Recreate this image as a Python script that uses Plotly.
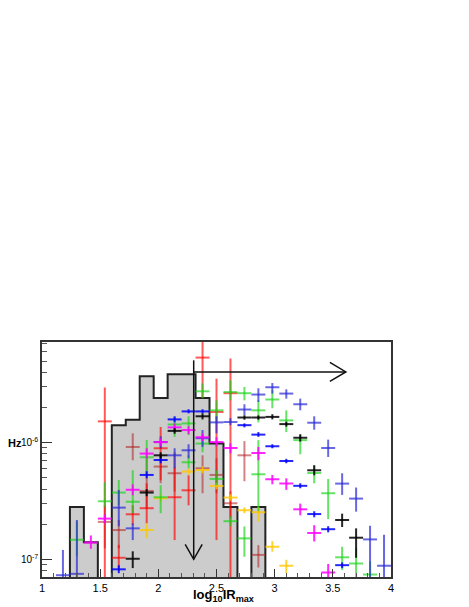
import plotly.graph_objects as go

# histogram (25 bins of 0.12 from 1 to 4)
bin_edges = [1.00, 1.12, 1.24, 1.36, 1.48, 1.60, 1.72, 1.84, 1.96, 2.08, 2.20, 2.32, 2.44,
             2.56, 2.68, 2.80, 2.92, 3.04, 3.16, 3.28, 3.40, 3.52, 3.64, 3.76, 3.88, 4.00]
hist_vals = [0, 0, 2.8e-7, 1.4e-7, 0, 1.41e-6, 1.57e-6, 3.7e-6, 2.41e-6, 3.85e-6, 3.85e-6,
             2.41e-6, 0.98e-6, 2.8e-7, 0, 2.8e-7, 0, 0, 0, 0, 0, 0, 0, 0, 0]

# series: bin centre, value, upper end, lower end (0 = down to the axis)
red_x = [1.54, 1.66, 1.78, 1.90, 2.02, 2.14, 2.26, 2.38, 2.50, 2.62]
red_y = [1.52e-6, 1.03e-7, 2.43e-7, 2.74e-7, 8.94e-7, 3.40e-7, 3.90e-7, 5.35e-6, 1.83e-6, 2.65e-6]
red_hi = [2.96e-6, 1.33e-7, 2.90e-7, 4.48e-7, 1.36e-6, 6.14e-7, 5.24e-7, 9.17e-6, 3.53e-6, 5.25e-6]
red_lo = [0, 8.4e-8, 1.96e-7, 2.03e-7, 4.75e-7, 1.46e-7, 2.90e-7, 2.40e-6, 1.46e-7, 0]

salmon_x = [1.54, 1.66, 1.78, 1.90, 2.02, 2.14, 2.38, 2.50, 2.62, 2.74, 2.86]
salmon_y = [2.09e-7, 1.78e-7, 9.17e-7, 3.85e-7, 6.23e-7, 5.46e-7, 6.02e-7, 5.28e-7, 3.02e-7, 7.78e-7, 1.09e-7]
salmon_hi = [2.92e-7, 2.17e-7, 1.20e-6, 7.34e-7, 7.78e-7, 8.26e-7, 7.78e-7, 7.34e-7, 3.82e-7, 1.03e-6, 1.32e-7]
salmon_lo = [1.24e-7, 1.24e-7, 7.05e-7, 2.74e-7, 4.48e-7, 3.80e-7, 3.68e-7, 3.68e-7, 2.25e-7, 4.66e-7, 8.5e-8]

green_x = [1.30, 1.54, 1.66, 1.78, 1.90, 2.02, 2.14, 2.26, 2.26, 2.38, 2.38, 2.50, 2.50, 2.62,
           2.62, 2.74, 2.74, 2.86, 2.86, 2.98, 3.10, 3.22, 3.34, 3.46, 3.58, 3.70, 3.82]
green_y = [1.47e-7, 3.14e-7, 3.73e-7, 3.11e-7, 7.48e-7, 3.40e-7, 1.43e-6, 1.46e-6, 6.78e-7, 2.75e-6,
           9.80e-7, 1.89e-6, 4.88e-7, 2.71e-6, 2.12e-7, 2.65e-6, 1.51e-7, 1.89e-6, 5.35e-7, 2.34e-6,
           1.55e-6, 1.05e-6, 5.49e-7, 3.68e-7, 1.04e-7, 9.2e-8, 7.4e-8]
green_hi = [2.12e-7, 4.57e-7, 4.78e-7, 5.79e-7, 1.05e-6, 4.31e-7, 1.66e-6, 1.68e-6, 7.78e-7, 3.22e-6,
            1.16e-6, 2.30e-6, 5.79e-7, 3.42e-6, 2.34e-7, 3.00e-6, 1.91e-7, 2.30e-6, 1.05e-6, 2.81e-6,
            1.89e-6, 1.16e-6, 6.39e-7, 4.88e-7, 1.28e-7, 1.24e-7, 9.6e-8]
green_lo = [1.06e-7, 2.79e-7, 2.90e-7, 2.48e-7, 5.24e-7, 2.48e-7, 1.12e-6, 1.16e-6, 6.02e-7, 2.40e-6,
            8.26e-7, 1.55e-6, 4.31e-7, 2.30e-6, 1.92e-7, 2.30e-6, 1.05e-7, 1.49e-6, 2.58e-7, 1.97e-6,
            1.23e-6, 7.94e-7, 4.48e-7, 2.21e-7, 8.1e-8, 0, 0]

slate_x = [1.18, 1.30, 1.66, 1.78, 2.02, 2.14, 2.26, 2.38, 2.50, 2.62, 2.74, 2.86, 2.98, 3.10,
           3.22, 3.34, 3.46, 3.58, 3.70, 3.82, 3.94]
slate_y = [7.3e-8, 7.5e-8, 2.77e-7, 1.84e-7, 1.01e-6, 7.78e-7, 8.59e-7, 1.09e-6, 1.49e-6, 1.50e-6,
           1.92e-6, 2.58e-6, 2.98e-6, 2.63e-6, 2.13e-6, 1.48e-6, 8.99e-7, 4.45e-7, 3.31e-7, 1.48e-7, 8.8e-8]
slate_hi = [1.20e-7, 2.17e-7, 3.93e-7, 2.03e-7, 1.13e-6, 8.94e-7, 9.67e-7, 1.28e-6, 1.68e-6, 1.62e-6,
            2.13e-6, 2.92e-6, 3.24e-6, 2.86e-6, 2.38e-6, 1.68e-6, 1.06e-6, 5.46e-7, 4.12e-7, 1.94e-7, 1.62e-7]
slate_lo = [0, 0, 1.92e-7, 1.46e-7, 8.94e-7, 6.02e-7, 7.34e-7, 9.17e-7, 1.20e-6, 1.41e-6,
            1.71e-6, 2.23e-6, 2.63e-6, 2.38e-6, 1.89e-6, 1.29e-6, 7.53e-7, 3.56e-7, 2.56e-7, 0, 0]

blue_x = [1.66, 1.90, 2.02, 2.14, 2.26, 2.38, 2.74, 2.86, 2.98, 3.10, 3.22, 3.34, 3.46, 3.58]
blue_y = [8.2e-8, 5.28e-7, 7.09e-7, 1.58e-6, 1.85e-6, 1.85e-6, 1.41e-6, 1.17e-6, 9.30e-7, 6.95e-7,
          4.26e-7, 2.44e-7, 1.81e-7, 8.9e-8]
blue_hi = [8.9e-8, 5.68e-7, 7.63e-7, 1.68e-6, 1.93e-6, 1.93e-6, 1.46e-6, 1.23e-6, 9.67e-7, 7.26e-7,
           4.48e-7, 2.58e-7, 1.92e-7, 9.4e-8]
blue_lo = [7.6e-8, 4.94e-7, 6.65e-7, 1.49e-6, 1.78e-6, 1.78e-6, 1.35e-6, 1.12e-6, 8.94e-7, 6.65e-7,
           4.06e-7, 2.29e-7, 1.70e-7, 8.4e-8]

magenta_x = [1.42, 1.54, 1.78, 1.90, 2.02, 2.14, 2.26, 2.38, 2.50, 2.62, 2.86, 2.98, 3.10, 3.22, 3.34, 3.46]
magenta_y = [1.39e-7, 2.23e-7, 3.94e-7, 8.05e-7, 1.01e-6, 1.35e-6, 1.28e-6, 1.11e-6, 1.01e-6, 8.99e-7,
             8.14e-7, 4.85e-7, 4.46e-7, 2.68e-7, 1.68e-7, 7.7e-8]
magenta_hi = [1.60e-7, 2.43e-7, 4.39e-7, 8.94e-7, 1.09e-6, 1.46e-6, 1.38e-6, 1.20e-6, 1.11e-6, 9.86e-7,
              9.17e-7, 5.28e-7, 4.94e-7, 3.00e-7, 1.96e-7, 9.1e-8]
magenta_lo = [1.23e-7, 2.03e-7, 3.54e-7, 7.34e-7, 9.30e-7, 1.25e-6, 1.18e-6, 1.03e-6, 9.30e-7, 8.10e-7,
              7.05e-7, 4.39e-7, 3.93e-7, 2.38e-7, 1.42e-7, 0]

black_x = [1.78, 1.90, 2.02, 2.14, 2.38, 2.74, 2.86, 2.98, 3.10, 3.22, 3.34, 3.58, 3.70]
black_y = [1.01e-7, 3.73e-7, 7.78e-7, 1.26e-6, 1.68e-6, 1.64e-6, 1.64e-6, 1.66e-6, 1.44e-6, 1.10e-6,
           5.79e-7, 2.17e-7, 1.53e-7]
black_hi = [1.17e-7, 3.98e-7, 8.26e-7, 1.33e-6, 1.78e-6, 1.71e-6, 1.71e-6, 1.75e-6, 1.51e-6, 1.18e-6,
            6.39e-7, 2.46e-7, 1.84e-7]
black_lo = [8.4e-8, 3.47e-7, 7.34e-7, 1.19e-6, 1.58e-6, 1.57e-6, 1.57e-6, 1.58e-6, 1.37e-6, 1.02e-6,
            5.24e-7, 1.89e-7, 1.03e-7]

yellow_x = [1.90, 2.02, 2.26, 2.38, 2.50, 2.62, 2.74, 2.86, 2.98, 3.10]
yellow_y = [1.78e-7, 3.33e-7, 5.64e-7, 5.82e-7, 4.25e-7, 3.38e-7, 2.63e-7, 2.53e-7, 1.28e-7, 8.8e-8]
yellow_hi = [2.03e-7, 3.61e-7, 6.02e-7, 6.27e-7, 4.52e-7, 3.61e-7, 2.79e-7, 2.82e-7, 1.43e-7, 9.9e-8]
yellow_lo = [1.51e-7, 3.08e-7, 5.30e-7, 5.46e-7, 3.98e-7, 3.17e-7, 2.48e-7, 2.10e-7, 1.16e-7, 7.6e-8]

# arrows (limit markers)
arrow_x = 2.304
arrow_top = 5.07e-6
arrow_tip_down = 1.0e-7
arrow_h_y = 4.03e-6
arrow_tip_right = 3.612

fig = go.Figure()

# gray histogram
step_x = bin_edges
step_y = [v if v > 0 else 1e-9 for v in hist_vals] + [1e-9]
fig.add_trace(go.Scatter(x=step_x, y=step_y, mode="lines", line_shape="hv",
                         line=dict(color="#222222", width=2),
                         fill="tozeroy", fillcolor="#cccccc", hoverinfo="skip"))

series = [
    (salmon_x, salmon_y, salmon_hi, salmon_lo, "rgba(175,30,30,0.55)"),
    (red_x, red_y, red_hi, red_lo, "rgba(255,0,0,0.65)"),
    (yellow_x, yellow_y, yellow_hi, yellow_lo, "rgba(255,200,0,0.8)"),
    (green_x, green_y, green_hi, green_lo, "rgba(20,210,20,0.65)"),
    (slate_x, slate_y, slate_hi, slate_lo, "rgba(40,40,215,0.7)"),
    (magenta_x, magenta_y, magenta_hi, magenta_lo, "rgba(255,0,255,0.85)"),
    (blue_x, blue_y, blue_hi, blue_lo, "rgba(0,0,255,0.85)"),
    (black_x, black_y, black_hi, black_lo, "rgba(0,0,0,0.85)"),
]
for xs, ys, his, los, col in series:
    fig.add_trace(go.Scatter(
        x=xs, y=ys, mode="markers",
        marker=dict(size=1, color="rgba(0,0,0,0)"),
        error_x=dict(type="constant", value=0.06, color=col, thickness=2, width=0),
        error_y=dict(type="data", array=[h - y for h, y in zip(his, ys)],
                     arrayminus=[y - l for y, l in zip(ys, los)],
                     symmetric=False, color=col, thickness=2, width=0),
        hoverinfo="skip"))

arrow_line = dict(color="#111111", width=1.5)
fig.add_shape(type="line", x0=arrow_x, x1=arrow_x, y0=arrow_top, y1=arrow_tip_down,
              xref="x", yref="y", line=arrow_line)
fig.add_shape(type="line", x0=arrow_x, x1=arrow_tip_right, y0=arrow_h_y, y1=arrow_h_y,
              xref="x", yref="y", line=arrow_line)
fig.add_shape(type="path", xref="x", yref="y", xsizemode="pixel", ysizemode="pixel",
              xanchor=arrow_tip_right, yanchor=arrow_h_y,
              path="M -16,9.5 L 0,0 L -16,-9.5", line=arrow_line)
fig.add_shape(type="path", xref="x", yref="y", xsizemode="pixel", ysizemode="pixel",
              xanchor=arrow_x, yanchor=arrow_tip_down,
              path="M -8.5,15 L 0,0 L 8.5,15", line=arrow_line)

# the page body adds 8px around the figure, so margins are set 8px smaller on top/left
font = "Liberation Sans, Arial, sans-serif"
fig.update_layout(
    width=469, height=607,
    margin=dict(l=34, r=86, t=334, b=38),
    paper_bgcolor="white", plot_bgcolor="white",
    showlegend=False,
    font=dict(family=font, size=11, color="black"),
    xaxis=dict(range=[1, 4], tickvals=[1, 1.5, 2, 2.5, 3, 3.5, 4],
               ticktext=["1", "1.5", "2", "2.5", "3", "3.5", "4"], automargin=False,
               ticks="inside", ticklen=8, tickcolor="#333", showgrid=False, zeroline=False,
               showline=True, linecolor="#333", linewidth=1.5, mirror=True,
               minor=dict(ticks="inside", ticklen=4, dtick=0.1, tickcolor="#555", showgrid=False)),
    yaxis=dict(type="log", range=[-7.152, -5.138], tickvals=[1e-7, 1e-6],
               ticktext=["10<sup>-7</sup>", "10<sup>-6</sup>"], automargin=False,
               tickfont=dict(size=10),
               ticks="inside", ticklen=10, tickcolor="#333", showgrid=False, zeroline=False,
               showline=True, linecolor="#333", linewidth=1.5, mirror=True,
               minor=dict(ticks="inside", ticklen=5, tickcolor="#555", showgrid=False,
                          tickvals=[8e-8, 9e-8, 2e-7, 3e-7, 4e-7, 5e-7, 6e-7, 7e-7, 8e-7, 9e-7,
                                    2e-6, 3e-6, 4e-6, 5e-6, 6e-6, 7e-6])),
    annotations=[
        dict(text="<b>log<sub>10</sub>IR<sub>max</sub></b>", xref="paper", yref="paper",
             x=0.519, y=-0.078, showarrow=False, xanchor="center", yanchor="middle",
             font=dict(size=13)),
        dict(text="<b>Hz</b>", xref="paper", yref="paper", x=-0.076, y=0.57,
             showarrow=False, xanchor="center", yanchor="middle", font=dict(size=11)),
    ],
)

fig.write_html("out.html")
